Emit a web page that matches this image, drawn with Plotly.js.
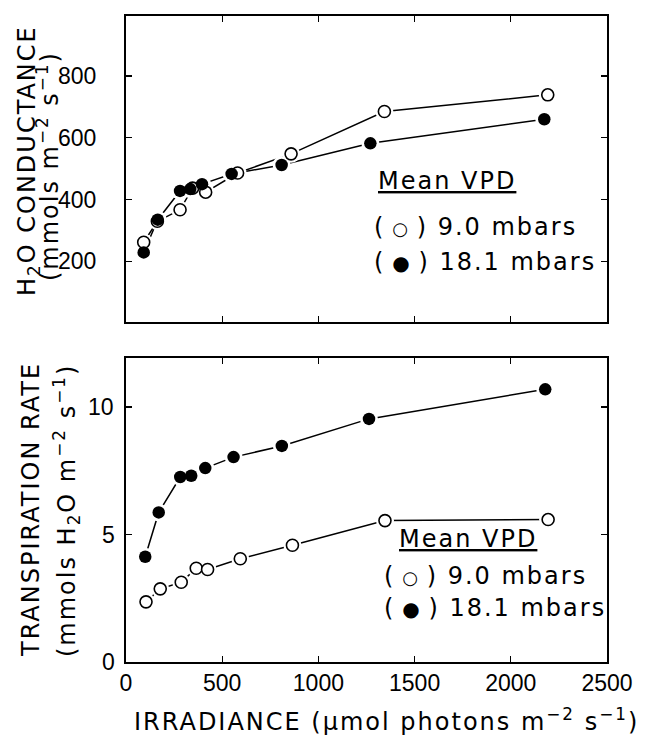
<!DOCTYPE html>
<html>
<head>
<meta charset="utf-8">
<script src="https://cdn.plot.ly/plotly-3.0.1.min.js"></script>
<style>
html,body{margin:0;padding:0;background:#fff;}
.annotation-text{letter-spacing:2px;}
</style>
</head>
<body>
<div id="chart" style="width:647px;height:736px;"></div>
<script>
// ---- data ----
const irradTicks = [0, 500, 1000, 1500, 2000, 2500];
const condTicks = [0, 200, 400, 600, 800];
const transTicks = [0, 5, 10];

// Top panel: H2O conductance (mmols m-2 s-1)
const condX_low = [92, 163, 281, 346, 414, 580, 858, 1343, 2192];   // 9.0 mbars (open)
const condY_low = [262, 330, 367, 437, 424, 486, 548, 685, 739];
const condX_high = [92, 165, 281, 334, 395, 549, 809, 1270, 2174];  // 18.1 mbars (filled)
const condY_high = [229, 335, 428, 434, 450, 483, 512, 582, 660];

// Bottom panel: transpiration rate (mmols H2O m-2 s-1)
const transX_low = [104, 178, 287, 365, 424, 594, 865, 1346, 2194];
const transY_low = [2.36, 2.87, 3.13, 3.68, 3.63, 4.05, 4.58, 5.55, 5.59];
const transX_high = [100, 170, 282, 339, 412, 559, 810, 1263, 2179];
const transY_high = [4.13, 5.87, 7.26, 7.31, 7.61, 8.04, 8.48, 9.54, 10.70];

// ---- layout helpers ----
const W = 647, H = 736, L = 126, R = 40, T = 16, B = 74;
const px2x = p => (p - L) / (W - L - R);
const px2y = p => (H - B - p) / (H - T - B);
const NUMFONT = 'Liberation Sans, Arial, sans-serif';
const TXTFONT = 'DejaVu Sans, sans-serif';
const TS = 24;

function line(x, y, xa, ya) {
  return {x, y, xaxis: xa, yaxis: ya, mode: 'lines', type: 'scatter',
    line: {color: '#000', width: 1.5}, hoverinfo: 'skip', showlegend: false};
}
function halo(x, y, xa, ya) {
  return {x, y, xaxis: xa, yaxis: ya, mode: 'markers', type: 'scatter',
    marker: {symbol: 'circle', size: 18, color: '#fff', line: {width: 0}},
    hoverinfo: 'skip', showlegend: false};
}
function marks(x, y, xa, ya, open) {
  return {x, y, xaxis: xa, yaxis: ya, mode: 'markers', type: 'scatter',
    marker: open ? {symbol: 'circle', size: 12, color: '#fff', line: {color: '#000', width: 1.6}}
                 : {symbol: 'circle', size: 12.5, color: '#000', line: {width: 0}},
    showlegend: false};
}

const data = [
  line(condX_low, condY_low, 'x', 'y'),
  line(condX_high, condY_high, 'x', 'y'),
  line(transX_low, transY_low, 'x2', 'y2'),
  line(transX_high, transY_high, 'x2', 'y2'),
  halo(condX_low, condY_low, 'x', 'y'),
  halo(condX_high, condY_high, 'x', 'y'),
  halo(transX_low, transY_low, 'x2', 'y2'),
  halo(transX_high, transY_high, 'x2', 'y2'),
  marks(condX_low, condY_low, 'x', 'y', true),
  marks(condX_high, condY_high, 'x', 'y', false),
  marks(transX_low, transY_low, 'x2', 'y2', true),
  marks(transX_high, transY_high, 'x2', 'y2', false),
];

const axBase = {
  showgrid: false, zeroline: false, showline: true, linecolor: '#000', linewidth: 1.6,
  mirror: 'ticks', ticks: 'inside', ticklen: 6, tickwidth: 1.4, tickcolor: '#000',
  fixedrange: true
};

const annotations = [];
function ann(text, xpx, ypx, opts) {
  annotations.push(Object.assign({
    text, xref: 'paper', yref: 'paper', x: px2x(xpx), y: px2y(ypx),
    xanchor: 'center', yanchor: 'middle', showarrow: false,
    font: {family: TXTFONT, size: TS, color: '#000'}
  }, opts || {}));
}
// y tick labels
condTicks.forEach(v => annotations.push({
  text: String(v), xref: 'paper', yref: 'y', x: 0, y: v, xanchor: 'right', yanchor: 'middle',
  xshift: v === 0 ? -10 : -25, showarrow: false, font: {family: NUMFONT, size: 23, color: '#000'}
}));
transTicks.forEach(v => annotations.push({
  text: String(v), xref: 'paper', yref: 'y2', x: 0, y: v, xanchor: 'right', yanchor: 'middle',
  xshift: -8, showarrow: false, font: {family: NUMFONT, size: 23, color: '#000'}
}));

// axis titles
ann('H<sub>2</sub>O CONDUCTANCE', 28, 161, {textangle: -90});
ann('(mmols m<sup>−2</sup> s<sup>−1</sup>)', 48, 166, {textangle: -90});
ann('TRANSPIRATION RATE', 31, 510, {textangle: -90});
ann('(mmols H<sub>2</sub>O m<sup>−2</sup> s<sup>−1</sup>)', 66, 511, {textangle: -90});
ann('IRRADIANCE (μmol photons m<sup>−2</sup> s<sup>−1</sup>)', 386, 720);

// legends
const u = {family: TXTFONT, size: TS, color: '#000', lineposition: 'under'};
const openSym = '(\u2009<span style="font-size:18px">○</span>\u2009)';
const fillSym = '(\u2009<span style="font-size:20px">●</span>\u2009)';
ann('Mean VPD', 376, 181, {xanchor: 'left', font: u});
ann(openSym + ' 9.0 mbars', 372, 227, {xanchor: 'left'});
ann(fillSym + ' 18.1 mbars', 372, 262, {xanchor: 'left'});
ann('Mean VPD', 397, 539, {xanchor: 'left', font: u});
ann(openSym + ' 9.0 mbars', 382, 576, {xanchor: 'left'});
ann(fillSym + ' 18.1 mbars', 382, 608, {xanchor: 'left'});

const layout = {
  width: W, height: H,
  margin: {l: L, r: R, t: T, b: B, pad: 0},
  paper_bgcolor: '#fff', plot_bgcolor: '#fff',
  showlegend: false,
  xaxis: Object.assign({}, axBase, {domain: [0, 1], anchor: 'y', range: [0, 2500],
    tickvals: irradTicks, showticklabels: false}),
  yaxis: Object.assign({}, axBase, {domain: [px2y(322), 1], anchor: 'x', range: [4, 994],
    tickvals: condTicks, showticklabels: false}),
  xaxis2: Object.assign({}, axBase, {domain: [0, 1], anchor: 'y2', range: [0, 2500],
    tickvals: irradTicks, ticktext: irradTicks.map(String), showticklabels: true,
    tickfont: {family: NUMFONT, size: 23, color: '#000'}}),
  yaxis2: Object.assign({}, axBase, {domain: [0, px2y(358)], anchor: 'x2', range: [0, 11.93],
    tickvals: transTicks, showticklabels: false}),
  annotations
};

Plotly.newPlot('chart', data, layout, {displayModeBar: false, staticPlot: true}).then(gd => {
  // numeric tick labels keep normal spacing
  gd.querySelectorAll('.annotation-text').forEach(t => {
    if (/^[0-9]+$/.test(t.textContent.trim())) t.style.letterSpacing = '0px';
  });
});
</script>
</body>
</html>
